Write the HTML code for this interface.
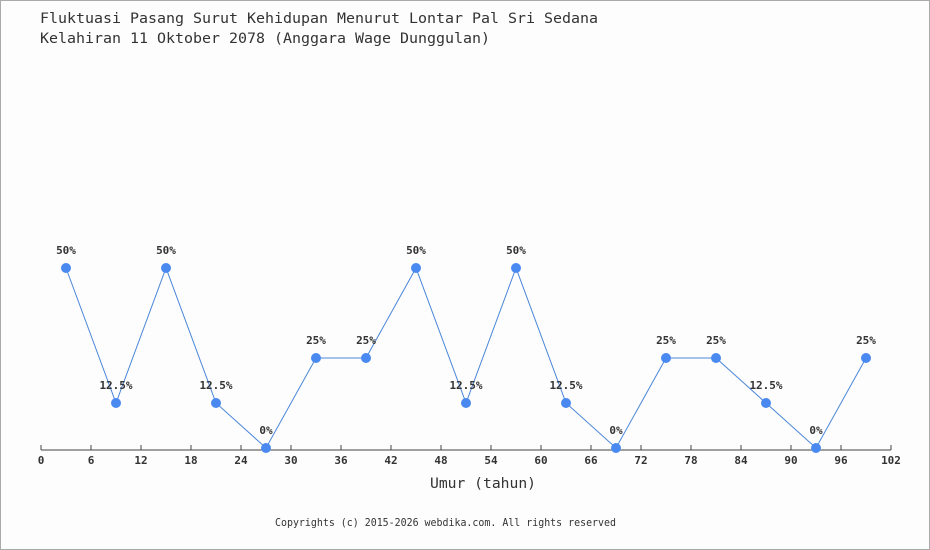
<!DOCTYPE html>
<html><head><meta charset="utf-8"><style>
html,body{margin:0;padding:0;background:#fff}
svg{display:block}
text{font-family:"DejaVu Sans Mono","Liberation Mono",monospace}
</style></head><body>
<svg width="930" height="550" viewBox="0 0 930 550" xmlns="http://www.w3.org/2000/svg">
<rect x="0.5" y="0.5" width="929" height="549" fill="#fdfdfd" stroke="#aaa" stroke-width="1"/>
<text x="40" y="23" font-size="14" fill="#333" textLength="558" lengthAdjust="spacingAndGlyphs">Fluktuasi Pasang Surut Kehidupan Menurut Lontar Pal Sri Sedana</text>
<text x="40" y="43" font-size="14" fill="#333" textLength="450" lengthAdjust="spacingAndGlyphs">Kelahiran 11 Oktober 2078 (Anggara Wage Dunggulan)</text>
<line x1="41" y1="450" x2="891" y2="450" stroke="#444" stroke-width="1"/>
<g stroke="#444" stroke-width="1" id="ticks"></g>
<g font-size="11" font-weight="bold" fill="#333" text-anchor="middle" id="tl"></g>
<text x="430" y="488" font-size="14" fill="#333" textLength="106" lengthAdjust="spacingAndGlyphs">Umur (tahun)</text>
<text x="275" y="526" font-size="11" fill="#333" textLength="341" lengthAdjust="spacingAndGlyphs">Copyrights (c) 2015-2026 webdika.com. All rights reserved</text>
<polyline id="pl" fill="none" stroke="#4a86d8" stroke-width="1"/>
<g id="pts" fill="#4a8af0"></g>
<g id="lbl" font-size="11" font-weight="bold" fill="#333" text-anchor="middle"></g>
</svg>
<script>
var ns="http://www.w3.org/2000/svg";
function el(t,a,p,txt){var e=document.createElementNS(ns,t);for(var k in a)e.setAttribute(k,a[k]);if(txt!=null)e.textContent=txt;document.getElementById(p).appendChild(e);}
function X(v){return 41+v*850/102;}
for(var v=0;v<=102;v+=6){var x=X(v);el('line',{x1:x,y1:445,x2:x,y2:450},'ticks');el('text',{x:x,y:464},'tl',String(v));}
var vals=[50,12.5,50,12.5,0,25,25,50,12.5,50,12.5,0,25,25,12.5,0,25];
var pts=[];
vals.forEach(function(p,i){var x=X(3+6*i),y=448-p*3.6;pts.push(x+','+y);
el('circle',{cx:x,cy:y,r:5},'pts');el('text',{x:x,y:y-14},'lbl',p+'%');});
document.getElementById('pl').setAttribute('points',pts.join(' '));
</script>
</body></html>
